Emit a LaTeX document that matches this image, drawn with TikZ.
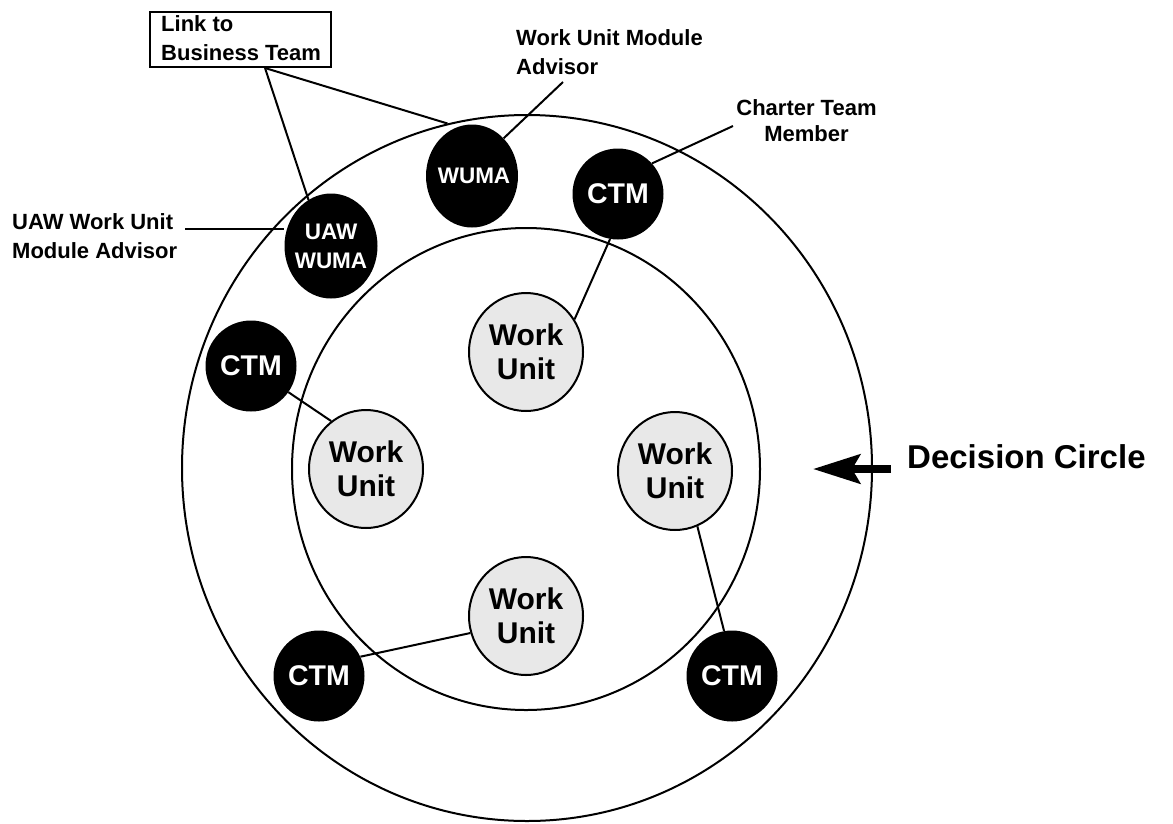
\documentclass[tikz,border=0pt]{standalone}
\usepackage{fontspec}
\setmainfont{Liberation Sans}
\usetikzlibrary{shapes.geometric,arrows.meta}
\definecolor{wufill}{RGB}{232,232,232}
\begin{document}
\begin{tikzpicture}[x=1pt,y=-1pt,
  ring/.style={draw, ellipse, line width=2pt, inner sep=0pt},
  wu/.style={draw, ellipse, line width=2pt, fill=wufill, inner sep=0pt, minimum width=114pt, minimum height=118pt, font=\bfseries\fontsize{30}{34}\selectfont, align=center},
  ctm/.style={fill=black, ellipse, inner sep=0pt, minimum width=91pt, minimum height=91pt, text=white, font=\bfseries\fontsize{28.5}{32}\selectfont},
  adv/.style={fill=black, ellipse, inner sep=0pt},
  advtext/.style={text=white, font=\bfseries\fontsize{22.5}{29}\selectfont, align=center, inner sep=0pt},
  lab/.style={font=\bfseries\fontsize{22}{29}\selectfont, inner sep=0pt},
  conn/.style={line width=2pt}
]
\useasboundingbox (0,0) rectangle (1173,823);
% rings
\node[ring, minimum width=690pt, minimum height=706pt] (outer) at (527,468) {};
\node[ring, minimum width=468pt, minimum height=482pt] (inner) at (526,469) {};
% work units
\node[wu] (wu1) at (526,352) {Work\\Unit};
\node[wu] (wu2) at (366,469) {Work\\Unit};
\node[wu] (wu3) at (675,471) {Work\\Unit};
\node[wu] (wu4) at (526,616) {Work\\Unit};
% charter team members
\node[ctm] (ctm1) at (618,194) {CTM};
\node[ctm] (ctm2) at (251,366) {CTM};
\node[ctm] (ctm3) at (319,676) {CTM};
\node[ctm] (ctm4) at (732,676) {CTM};
% advisors
\node[adv, minimum width=92pt, minimum height=103pt] (wuma) at (472,176) {};
\node[advtext] (wumaT) at (474,176) {WUMA};
\node[adv, minimum width=93pt, minimum height=105pt] (uaw) at (331,246) {};
\node[advtext] (uawT) at (331,246) {UAW\\WUMA};
% connectors
\draw[conn] (ctm1.260) -- (wu1.34);
\draw[conn] (ctm2.325) -- (wu2.126);
\draw[conn] (ctm3.25) -- (wu4.197);
\draw[conn] (wu3.292) -- (ctm4.100);
% link box
\node[draw, line width=2pt, minimum width=181pt, minimum height=55pt, inner sep=0pt] (linkbox) at (240.5,39.5) {};
\node[lab, anchor=north west, align=left] (linkT) at (161,15) {Link to\\Business Team};
\draw[conn] ([xshift=24.5pt]linkbox.south) -- (uaw.116);
\draw[conn] ([xshift=24.5pt]linkbox.south) -- (outer.103);
% labels
\node[lab, anchor=north west, align=left] (wumaLab) at (516,29) {Work Unit Module\\Advisor};
\coordinate (wumaL) at (563,82);
\draw[conn] (wumaL) -- (wuma.50);
\node[lab, anchor=north, align=center, font=\bfseries\fontsize{22}{26}\selectfont] (ctmLab) at (806.5,99) {Charter Team\\Member};
\coordinate (ctmL) at (733,126);
\draw[conn] (ctmL) -- (ctm1.42);
\node[lab, anchor=north west, align=left] (uawLab) at (12,213) {UAW Work Unit\\Module Advisor};
\coordinate (uawL) at (185,229);
\draw[conn] (uawL) -- (uawL -| uaw.west);
% decision circle
\node[anchor=base west, inner sep=0pt, font=\bfseries\fontsize{33}{38}\selectfont] (dc) at (907,468) {Decision Circle};
\coordinate (arrS) at (891,469);
\coordinate (arrT) at (813,469);
\draw[line width=8pt, -{Stealth[length=47pt, width=29pt, inset=8pt]}] (arrS) -- (arrT);
\end{tikzpicture}
\end{document}
